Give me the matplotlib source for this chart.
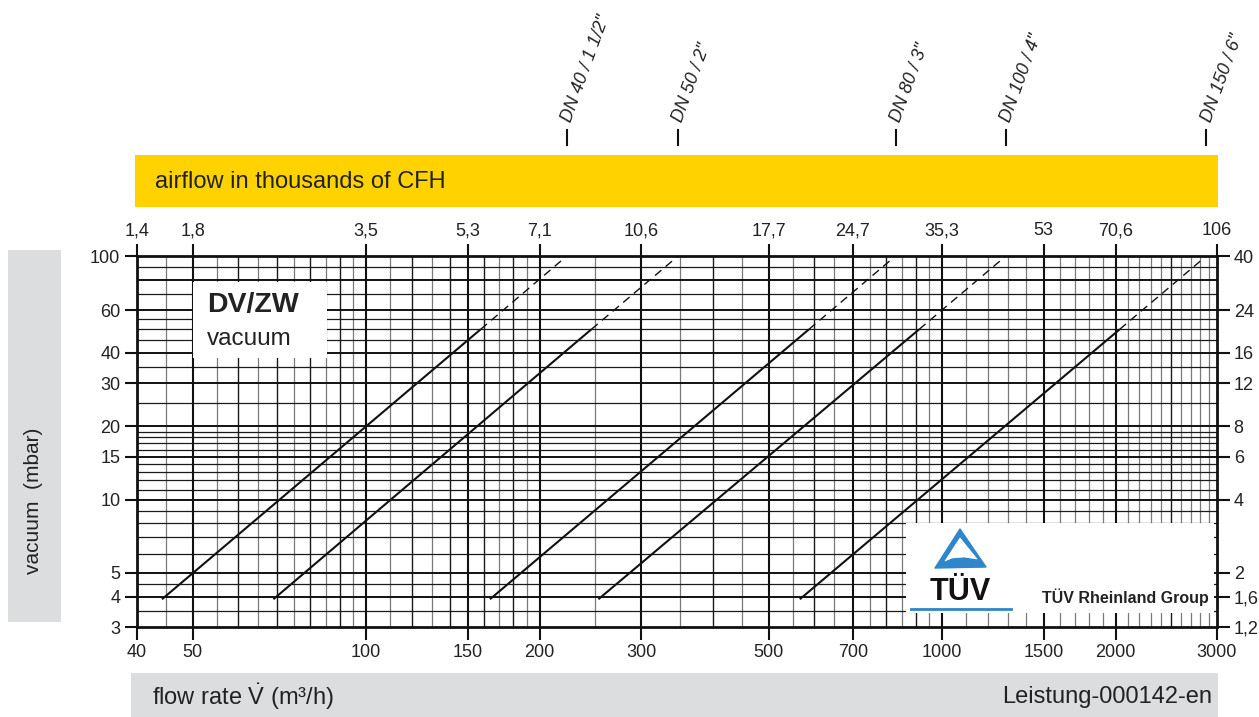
import numpy as np
import matplotlib
matplotlib.use("Agg")
import matplotlib.pyplot as plt
from matplotlib.patches import Rectangle, Polygon
from matplotlib.lines import Line2D
from matplotlib.transforms import blended_transform_factory

plt.rcParams['font.family'] = ['Liberation Sans', 'DejaVu Sans']
plt.rcParams['mathtext.fontset'] = 'custom'
plt.rcParams['mathtext.rm'] = 'Liberation Sans'
plt.rcParams['mathtext.it'] = 'Liberation Sans:italic'
plt.rcParams['mathtext.bf'] = 'Liberation Sans:bold'

# ---------------- data ----------------
dn_labels = ['DN 40 / 1 1/2"', 'DN 50 / 2"', 'DN 80 / 3"', 'DN 100 / 4"', 'DN 150 / 6"']
# flow (m3/h) at start (3.9 mbar), at end of solid part (50 mbar), at end of dashed part (100 mbar)
flow_start = [44.2, 69, 164, 253, 566]
flow_solid_end = [158, 246, 587, 912, 2033]
flow_end = [223, 348, 830, 1290, 2875]
vac_start = 3.9
vac_solid_end = 50
vac_end = 100

x_ticks = [40, 50, 100, 150, 200, 300, 500, 700, 1000, 1500, 2000, 3000]
x_tick_labels = ['40', '50', '100', '150', '200', '300', '500', '700', '1000', '1500', '2000', '3000']
cfh_labels = ['1,4', '1,8', '3,5', '5,3', '7,1', '10,6', '17,7', '24,7', '35,3', '53', '70,6', '106']
y_ticks = [3, 4, 5, 10, 15, 20, 30, 40, 60, 100]
y_tick_labels = ['3', '4', '5', '10', '15', '20', '30', '40', '60', '100']
inh2o_labels = ['1,2', '1,6', '2', '4', '6', '8', '12', '16', '24', '40']

# grid positions
vgrid_black = [60, 70, 80, 90, 120, 140, 160, 180, 400, 600, 800, 900, 2500]
vgrid_gray = [45, 55, 65, 75, 85, 95, 110, 130, 170, 190, 250, 350, 450, 550, 650, 750, 850, 950,
              1100, 1200, 1300, 1400, 1600, 1700, 1800, 1900, 2100, 2200, 2300, 2400, 2600, 2700, 2800, 2900]
vgrid_major = [50, 100, 150, 200, 300, 500, 700, 1000, 1500, 2000]
hgrid_thin = [3.5, 4.5, 6, 7, 8, 9, 11, 12, 13, 14, 16, 17, 18, 19, 25, 35, 45, 50, 55, 70, 90]
hgrid_major = [4, 5, 10, 15, 20, 30, 40, 60, 80]

W, H = 1259, 717
fig = plt.figure(figsize=(W / 100, H / 100), dpi=100)
fig.patch.set_facecolor('white')

def fx(px):
    return px / W

def fy(py):
    return 1 - py / H

L, R, T, B = 137, 1217, 256, 627
ax = fig.add_axes([fx(L), fy(B), fx(R) - fx(L), fy(T) - fy(B)])
ax.set_xscale('log')
ax.set_yscale('log')
ax.set_xlim(40, 3000)
ax.set_ylim(3, 100)

txtc = '#222222'

# grid
for v in vgrid_gray:
    ax.axvline(v, color='#7a7a7a', lw=0.9, zorder=1)
for v in vgrid_black:
    ax.axvline(v, color='#1a1a1a', lw=1.0, zorder=1.2)
for v in vgrid_major:
    ax.axvline(v, color='#111111', lw=1.5, zorder=1.3)
for v in hgrid_thin:
    ax.axhline(v, color='#1a1a1a', lw=0.9, zorder=1.2)
for v in hgrid_major:
    ax.axhline(v, color='#111111', lw=1.4, zorder=1.3)

# curves
for i in range(len(dn_labels)):
    ax.plot([flow_start[i], flow_solid_end[i]], [vac_start, vac_solid_end],
            color='#111111', lw=1.5, zorder=3, solid_capstyle='butt')
    ax.plot([flow_solid_end[i], flow_end[i]], [vac_solid_end, vac_end],
            color='#111111', lw=1.0, ls=(0, (6, 4)), zorder=3)

for s in ax.spines.values():
    s.set_linewidth(2.0)
    s.set_color('#111111')
    s.set_zorder(5)

ax.set_xticks(x_ticks)
ax.set_xticklabels(x_tick_labels)
ax.set_xticks([], minor=True)
ax.set_yticks(y_ticks)
ax.set_yticklabels(y_tick_labels)
ax.set_yticks([], minor=True)
ax.tick_params(axis='both', which='major', direction='out', length=9, width=1.5,
               labelsize=13, colors='#111111', labelcolor=txtc, pad=3)

# top axis (CFH)
axt = ax.twiny()
axt.set_xscale('log')
axt.set_xlim(40, 3000)
axt.set_xticks(x_ticks)
axt.set_xticklabels(cfh_labels)
axt.set_xticks([], minor=True)
axt.tick_params(axis='x', direction='out', length=9, width=1.5, labelsize=13,
                colors='#111111', labelcolor=txtc, pad=3)
for s in axt.spines.values():
    s.set_visible(False)

# right axis (inH2O)
axr = ax.twinx()
axr.set_yscale('log')
axr.set_ylim(3, 100)
axr.set_yticks(y_ticks)
axr.set_yticklabels(inh2o_labels)
axr.set_yticks([], minor=True)
axr.tick_params(axis='y', direction='out', length=9, width=1.5, labelsize=13,
                colors='#111111', labelcolor=txtc, pad=3)
for s in axr.spines.values():
    s.set_visible(False)

# DV/ZW box
fig.add_artist(Rectangle((fx(193), fy(358)), fx(327) - fx(193), fy(282) - fy(358),
                         transform=fig.transFigure, facecolor='white', edgecolor='none', zorder=10))
fig.text(fx(207), fy(305), 'DV/ZW', fontsize=20.5, fontweight='bold', color=txtc,
         va='center', ha='left', zorder=11)
fig.text(fx(207), fy(339), 'vacuum', fontsize=17.5, color=txtc, va='center', ha='left', zorder=11)

# TÜV box
bx0, by0, bx1, by1 = 906, 523, 1214, 613
tax = fig.add_axes([fx(bx0), fy(by1), fx(bx1) - fx(bx0), fy(by0) - fy(by1)], zorder=10)
tax.set_xlim(bx0, bx1)
tax.set_ylim(by1, by0)
tax.set_facecolor('white')
tax.set_xticks([])
tax.set_yticks([])
for s in tax.spines.values():
    s.set_visible(False)
blue = '#2f86c8'
tax.add_patch(Polygon([(960, 529), (935, 568), (986, 567)], closed=True,
                      facecolor=blue, edgecolor=blue, lw=1, joinstyle='round'))
tax.add_patch(Polygon([(960, 538), (945, 561), (952, 558), (964, 557), (977, 559)], closed=True,
                      facecolor='white', edgecolor='white', lw=0.5))
tax.text(960, 592, 'TÜV', fontsize=22, fontweight='bold', color='#111111', ha='center', va='center')
tax.plot([911, 1011], [609, 609], color=blue, lw=2)
tax.text(1209, 597, 'TÜV Rheinland Group', fontsize=11.5, fontweight='bold', color='#222222',
         ha='right', va='center')

# Yellow band
fig.add_artist(Rectangle((fx(135), fy(207)), fx(1218) - fx(135), fy(155) - fy(207),
                         transform=fig.transFigure, facecolor='#FFD200', edgecolor='none', zorder=0))
fig.text(fx(155), fy(182), 'airflow in thousands of CFH', fontsize=17, color=txtc,
         ha='left', va='center')

# bottom gray band
fig.add_artist(Rectangle((fx(131), 0), fx(1218) - fx(131), fy(673),
                         transform=fig.transFigure, facecolor='#DCDDDF', edgecolor='none', zorder=0))
fig.text(fx(152), fy(697), r'flow rate $\dot{\mathrm{V}}$ (m³/h)', fontsize=17, color=txtc,
         ha='left', va='center')
fig.text(fx(1212), fy(697), 'Leistung-000142-en', fontsize=17, color=txtc, ha='right', va='center')

# left gray band
fig.add_artist(Rectangle((fx(8), fy(622)), fx(61) - fx(8), fy(250) - fy(622),
                         transform=fig.transFigure, facecolor='#DCDDDF', edgecolor='none', zorder=0))
fig.text(fx(34), fy(501), 'vacuum  (mbar)', fontsize=15, color=txtc, ha='center', va='center',
         rotation=90)

# DN labels at top
btr = blended_transform_factory(ax.transData, fig.transFigure)
for i, lab in enumerate(dn_labels):
    fig.add_artist(Line2D([flow_end[i], flow_end[i]], [fy(145), fy(130)], transform=btr,
                          color='#111111', lw=1.5))
    fig.text(flow_end[i], fy(121), lab, transform=btr, fontsize=13, style='italic',
             color=txtc, rotation=70, rotation_mode='anchor', ha='left', va='center')

fig.savefig('out.png', dpi=100)
